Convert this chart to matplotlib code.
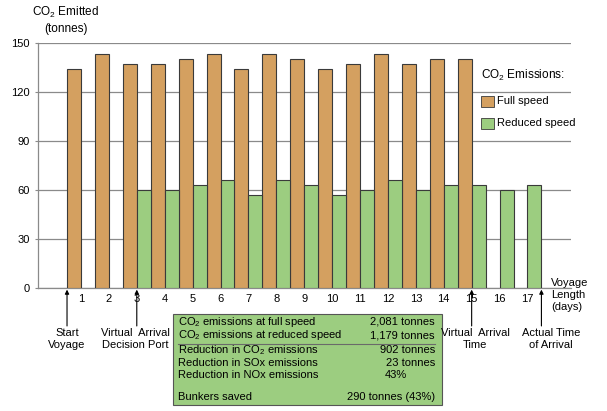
import matplotlib

matplotlib.use("Agg")

import matplotlib.pyplot as plt
from matplotlib.patches import Rectangle

plt.rcParams["font.family"] = ["Liberation Sans", "DejaVu Sans"]
plt.rcParams["mathtext.fontset"] = "custom"
plt.rcParams["mathtext.rm"] = "Liberation Sans"
plt.rcParams["mathtext.it"] = "Liberation Sans:italic"
plt.rcParams["mathtext.bf"] = "Liberation Sans:bold"

# data
full_days = list(range(1, 16))
full_speed = [134, 143, 137, 137, 140, 143, 134, 143, 140, 134, 137, 143, 137, 140, 140]
reduced_days = list(range(3, 18))
reduced_speed = [60, 60, 63, 66, 57, 66, 63, 57, 60, 66, 60, 63, 63, 60, 63]
day_ticks = list(range(1, 18))
y_ticks = [0, 30, 60, 90, 120, 150]

summary_labels = [
    "CO$_2$ emissions at full speed",
    "CO$_2$ emissions at reduced speed",
    "Reduction in CO$_2$ emissions",
    "Reduction in SOx emissions",
    "Reduction in NOx emissions",
    "Bunkers saved",
]
summary_values = ["2,081 tonnes", "1,179 tonnes", "902 tonnes", "23 tonnes", "43%", "290 tonnes (43%)"]

ORANGE = "#D4A060"
GREEN = "#9CCD80"
EDGE = "#3a3a3a"
GRID = "#8a8a8a"
FS = 8

W, H = 607, 411
fig = plt.figure(figsize=(W / 100, H / 100), dpi=100)
ax = fig.add_axes([38 / W, 1 - 288 / H, (571 - 38) / W, (288 - 42.7) / H])

ax.bar([d - 0.25 for d in full_days], full_speed, width=0.5, color=ORANGE,
       edgecolor=EDGE, linewidth=0.8, zorder=3)
ax.bar([d + 0.25 for d in reduced_days], reduced_speed, width=0.5, color=GREEN,
       edgecolor=EDGE, linewidth=0.8, zorder=3)

ax.set_xlim(-0.54, 18.56)
ax.set_ylim(0, 150)
ax.set_yticks(y_ticks)
ax.set_xticks(day_ticks)
ax.tick_params(axis="y", length=2, color=GRID, labelsize=FS, pad=4)
ax.tick_params(axis="x", length=0, labelsize=FS, pad=4)
ax.grid(axis="y", color=GRID, linewidth=0.9, zorder=0)
for side in ["top", "right"]:
    ax.spines[side].set_visible(False)
for side in ["left", "bottom"]:
    ax.spines[side].set_color(GRID)
    ax.spines[side].set_linewidth(0.9)

# y axis title
fig.text(66 / W, 1 - 20 / H, "CO$_2$ Emitted\n(tonnes)", ha="center", va="center",
         fontsize=FS + 0.5, linespacing=1.25)

# legend drawn by hand
fig.text(481 / W, 1 - 75 / H, "CO$_2$ Emissions:", ha="left", va="center", fontsize=FS + 0.5)
for y_pix, color, label in [(101.5, ORANGE, "Full speed"), (123.5, GREEN, "Reduced speed")]:
    fig.patches.append(Rectangle((481 / W, 1 - (y_pix + 5.5) / H), 13 / W, 11 / H,
                                 transform=fig.transFigure, facecolor=color,
                                 edgecolor=EDGE, linewidth=0.6))
    fig.text(497 / W, 1 - y_pix / H, label, ha="left", va="center", fontsize=FS)


def px_to_data(x_pix, y_pix):
    return (x_pix - 53.15) / 27.85, (288 - y_pix) / 1.637


# arrows and labels under the axis
markers = [
    (0.5, 67, "Start\nVoyage"),
    (3.0, 135, "Virtual  Arrival\nDecision Port"),
    (15.0, 475, "Virtual  Arrival\nTime"),
    (17.5, 551, "Actual Time\nof Arrival"),
]
for x_data, text_x, text in markers:
    ax.annotate("", xy=(x_data, -1), xytext=(x_data, px_to_data(0, 326)[1]),
                arrowprops=dict(arrowstyle="-|>", color="black", lw=0.8,
                                mutation_scale=6, shrinkA=0, shrinkB=0),
                annotation_clip=False)
    fig.text(text_x / W, 1 - 339 / H, text, ha="center", va="center",
             fontsize=FS, linespacing=1.3)

fig.text(551 / W, 1 - 295 / H, "Voyage\nLength\n(days)", ha="left", va="center",
         fontsize=FS, linespacing=1.3)

# summary box
fig.patches.append(Rectangle((173 / W, 1 - 405 / H), (442 - 173) / W, (405 - 314) / H,
                             transform=fig.transFigure, facecolor=GREEN,
                             edgecolor="#555555", linewidth=0.8))
fig.lines.append(plt.Line2D([178 / W, 435 / W], [1 - 343.5 / H, 1 - 343.5 / H],
                            transform=fig.transFigure, color="#6a6a6a", linewidth=0.8))
row_y = [321.7, 335, 350, 362.5, 375, 397]
for y_pix, label, value in zip(row_y, summary_labels, summary_values):
    fig.text(178 / W, 1 - y_pix / H, label, ha="left", va="center", fontsize=FS)
    if value.endswith("%") and "tonnes" not in value:
        fig.text(385 / W, 1 - y_pix / H, value, ha="left", va="center", fontsize=FS)
    else:
        fig.text(435 / W, 1 - y_pix / H, value, ha="right", va="center", fontsize=FS)

fig.savefig("out.png", dpi=100)
